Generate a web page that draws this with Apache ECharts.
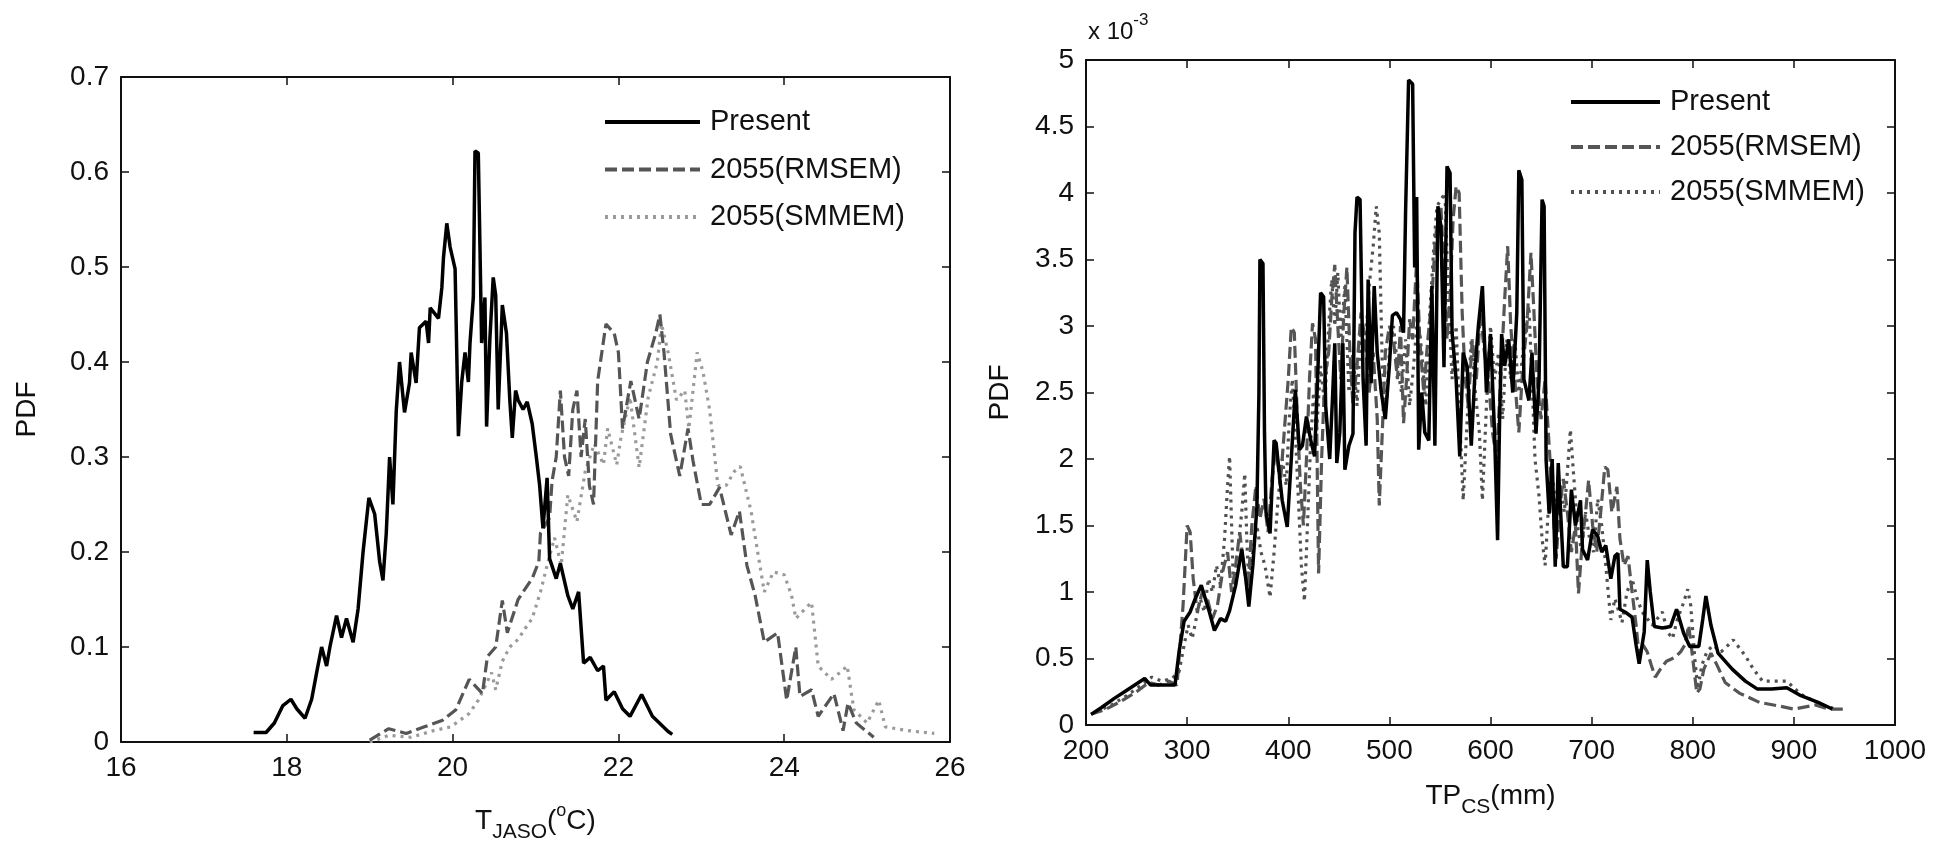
<!DOCTYPE html>
<html><head><meta charset="utf-8">
<script src="https://cdn.jsdelivr.net/npm/echarts@6/dist/echarts.min.js"></script>
<style>html,body{margin:0;padding:0;background:#fff}#c{width:1942px;height:849px}</style>
</head><body><div id="c"></div>
<script>
// ---------- tick labels ----------
const tjasoTicks = [16, 18, 20, 22, 24, 26];
const pdfLeftTicks = [0, 0.1, 0.2, 0.3, 0.4, 0.5, 0.6, 0.7];
const tpTicks = [200, 300, 400, 500, 600, 700, 800, 900, 1000];
const pdfRightTicks = [0, 0.5, 1, 1.5, 2, 2.5, 3, 3.5, 4, 4.5, 5]; // x 10^-3
const seriesNames = ['Present', '2055(RMSEM)', '2055(SMMEM)'];

// ---------- left panel: T_JASO (°C) vs PDF ----------
const tjasoPresent = [[17.6,0.01],[17.75,0.01],[17.85,0.02],[17.95,0.038],[18.05,0.045],[18.12,0.035],[18.22,0.025],[18.3,0.045],[18.36,0.073],[18.42,0.10],[18.48,0.08],[18.52,0.1],[18.6,0.133],[18.66,0.11],[18.72,0.13],[18.8,0.105],[18.86,0.14],[18.92,0.2],[18.99,0.257],[19.06,0.24],[19.12,0.19],[19.16,0.17],[19.2,0.22],[19.24,0.3],[19.28,0.25],[19.32,0.348],[19.36,0.40],[19.42,0.347],[19.48,0.378],[19.5,0.41],[19.56,0.378],[19.6,0.436],[19.68,0.443],[19.71,0.42],[19.73,0.457],[19.83,0.446],[19.87,0.478],[19.89,0.51],[19.93,0.546],[19.97,0.521],[20.03,0.498],[20.05,0.41],[20.07,0.322],[20.11,0.379],[20.15,0.41],[20.19,0.379],[20.21,0.42],[20.25,0.468],[20.27,0.622],[20.31,0.62],[20.33,0.521],[20.35,0.42],[20.39,0.468],[20.41,0.332],[20.45,0.425],[20.49,0.489],[20.52,0.47],[20.55,0.35],[20.6,0.46],[20.65,0.43],[20.69,0.36],[20.72,0.32],[20.76,0.37],[20.79,0.36],[20.85,0.35],[20.9,0.358],[20.96,0.335],[21.01,0.3],[21.05,0.27],[21.09,0.225],[21.14,0.278],[21.17,0.193],[21.25,0.172],[21.3,0.188],[21.39,0.154],[21.45,0.14],[21.52,0.158],[21.58,0.083],[21.66,0.089],[21.75,0.075],[21.82,0.08],[21.85,0.044],[21.95,0.053],[22.05,0.035],[22.14,0.027],[22.28,0.05],[22.41,0.027],[22.6,0.011],[22.65,0.008]];
const tjasoRMSEM = [[19.0,0.002],[19.23,0.014],[19.44,0.009],[19.66,0.016],[19.88,0.023],[20.04,0.034],[20.2,0.066],[20.36,0.051],[20.42,0.09],[20.52,0.10],[20.6,0.149],[20.66,0.115],[20.79,0.15],[20.85,0.158],[20.96,0.172],[21.04,0.19],[21.06,0.22],[21.17,0.236],[21.2,0.275],[21.25,0.3],[21.3,0.37],[21.35,0.3],[21.4,0.28],[21.45,0.35],[21.5,0.37],[21.55,0.3],[21.6,0.34],[21.65,0.27],[21.7,0.25],[21.75,0.38],[21.85,0.44],[21.95,0.43],[22.0,0.41],[22.05,0.33],[22.15,0.38],[22.25,0.34],[22.35,0.40],[22.45,0.43],[22.5,0.45],[22.55,0.41],[22.63,0.324],[22.74,0.28],[22.84,0.33],[22.9,0.296],[23.0,0.25],[23.1,0.25],[23.22,0.268],[23.36,0.218],[23.46,0.243],[23.55,0.186],[23.65,0.154],[23.76,0.105],[23.92,0.115],[24.03,0.044],[24.14,0.10],[24.19,0.048],[24.33,0.055],[24.41,0.027],[24.6,0.051],[24.71,0.012],[24.77,0.041],[24.87,0.02],[25.08,0.005]];
const tjasoSMMEM = [[19.0,0.0],[19.23,0.007],[19.5,0.005],[19.77,0.012],[19.98,0.016],[20.2,0.03],[20.31,0.044],[20.4,0.06],[20.47,0.073],[20.52,0.055],[20.6,0.085],[20.69,0.1],[20.79,0.108],[20.88,0.12],[20.96,0.13],[21.06,0.158],[21.14,0.186],[21.23,0.215],[21.31,0.186],[21.39,0.26],[21.5,0.232],[21.6,0.285],[21.71,0.314],[21.82,0.292],[21.87,0.33],[21.98,0.292],[22.03,0.32],[22.14,0.363],[22.25,0.289],[22.36,0.363],[22.47,0.40],[22.52,0.44],[22.6,0.41],[22.7,0.36],[22.8,0.37],[22.85,0.33],[22.95,0.41],[23.02,0.39],[23.1,0.35],[23.2,0.27],[23.3,0.27],[23.4,0.285],[23.47,0.29],[23.6,0.243],[23.68,0.2],[23.76,0.158],[23.87,0.179],[24.0,0.176],[24.09,0.154],[24.14,0.13],[24.25,0.14],[24.33,0.147],[24.41,0.08],[24.57,0.066],[24.7,0.075],[24.76,0.08],[24.84,0.034],[25.0,0.02],[25.14,0.044],[25.22,0.016],[25.49,0.012],[25.81,0.009]];

// ---------- right panel: TP_CS (mm) vs PDF (x 10^-3) ----------
const tpPresent = [[205,0.08],[215,0.13],[228,0.2],[240,0.26],[252,0.32],[258,0.35],[264,0.3],[272,0.3],[280,0.3],[288,0.3],[292,0.55],[297,0.78],[303,0.85],[308,0.95],[314,1.05],[318,0.95],[322,0.85],[327,0.71],[333,0.8],[338,0.78],[342,0.86],[348,1.05],[354,1.32],[358,1.1],[361,0.89],[365,1.2],[369,1.64],[371,2.49],[372,3.5],[375,3.47],[376.5,2.2],[378,1.6],[382,1.44],[386,2.14],[388,2.12],[391,1.9],[394,1.69],[399,1.49],[403,2.0],[407,2.52],[409,2.3],[411,2.07],[414,2.1],[418,2.32],[422,2.15],[426,2.02],[429,2.6],[432,3.25],[435,3.22],[437,2.4],[441,2.0],[444,2.5],[446,2.87],[448,1.97],[451,2.2],[454,2.87],[456,1.92],[460,2.1],[464,2.19],[466,3.7],[468,3.97],[471,3.95],[474,2.6],[477,2.1],[479,3.35],[482,2.57],[485,3.3],[488,2.8],[492,2.5],[496,2.3],[500,2.7],[503,3.08],[507,3.1],[511,3.05],[514,2.95],[516,3.85],[519,4.85],[523,4.82],[525,3.44],[527,3.97],[529,2.07],[532,2.5],[535,2.2],[539,2.14],[542,3.3],[545,2.1],[548,3.9],[551,3.75],[554,2.69],[557,4.2],[560,4.15],[562,2.95],[566,2.6],[569.6,2.02],[573,2.8],[577,2.69],[581,2.1],[585,2.7],[588,3.0],[592,3.3],[596,2.5],[600,2.94],[604,2.2],[607,1.39],[609,2.3],[611,2.94],[614,2.7],[618,2.9],[622,2.5],[626,3.1],[628,4.17],[631,4.1],[633,2.6],[638,2.44],[641,2.8],[645,2.19],[648,2.6],[651,3.95],[653,3.9],[655,1.99],[658,1.59],[661,2.0],[664,1.19],[667,1.97],[670,1.5],[672,1.19],[676,1.19],[680,1.77],[684,1.5],[689,1.69],[691,1.32],[696,1.24],[701,1.47],[706,1.42],[710,1.3],[714,1.35],[719,1.1],[723,1.27],[726,1.29],[728,0.87],[733,0.85],[740,0.81],[744,0.6],[747,0.46],[752,0.7],[755,1.24],[758,1.0],[762,0.74],[770,0.73],[778,0.74],[784,0.87],[791,0.69],[797,0.59],[806,0.59],[810,0.8],[813,0.97],[818,0.75],[825,0.54],[839,0.42],[852,0.33],[864,0.27],[878,0.27],[893,0.28],[907,0.22],[924,0.17],[938,0.12]];
const tpRMSEM = [[205,0.08],[220,0.12],[235,0.18],[250,0.25],[262,0.32],[272,0.3],[282,0.33],[290,0.3],[296,0.9],[300,1.5],[303,1.45],[306,1.1],[310,0.85],[315,1.0],[320,0.95],[325,0.8],[330,0.9],[335,1.15],[340,1.3],[344,1.0],[348,1.2],[352,1.45],[356,1.2],[360,1.0],[364,1.5],[368,1.8],[372,1.55],[376,1.7],[380,1.45],[384,1.85],[388,2.1],[392,1.8],[396,2.2],[400,2.6],[403,2.99],[406,2.95],[409,2.3],[412,1.8],[415,1.5],[418,2.0],[421,2.6],[424,3.02],[427,2.9],[430,1.14],[433,2.0],[436,2.6],[440,2.8],[443,3.2],[446,3.46],[449,3.0],[452,2.6],[455,3.1],[458,3.44],[461,2.8],[464,2.4],[468,2.7],[472,3.1],[476,2.9],[480,2.5],[484,2.8],[488,2.3],[490,1.65],[493,2.2],[496,2.8],[500,3.0],[504,2.9],[508,2.6],[511,3.0],[514,2.27],[517,2.6],[520,3.05],[523,2.9],[527,3.5],[530,2.9],[534,2.5],[538,2.9],[542,3.2],[545,3.6],[548,3.85],[551,3.9],[554,3.4],[557,2.9],[560,3.2],[563,3.8],[566,4.05],[569,4.0],[572,3.1],[575,2.6],[578,2.4],[582,2.9],[586,2.6],[590,3.1],[594,2.8],[598,2.6],[602,2.2],[606,2.0],[610,2.6],[614,3.2],[617,3.6],[620,3.0],[624,2.6],[628,2.2],[632,2.7],[636,3.0],[640,3.55],[643,3.1],[646,2.6],[650,2.3],[654,2.6],[658,2.1],[662,1.6],[665,1.25],[668,1.6],[672,1.85],[676,1.6],[680,1.3],[684,1.5],[687,0.99],[691,1.4],[694,1.6],[697,1.84],[701,1.5],[705,1.3],[709,1.6],[713,1.94],[716,1.92],[720,1.6],[725,1.79],[728,1.4],[732,1.2],[736,1.27],[740,1.0],[744,0.75],[747,0.52],[751,0.6],[755,0.55],[759,0.45],[763,0.36],[768,0.42],[774,0.48],[780,0.5],[784,0.52],[788,0.55],[792,0.6],[796,0.75],[800,0.5],[804,0.24],[807,0.27],[811,0.42],[818,0.54],[824,0.45],[832,0.32],[846,0.24],[866,0.17],[887,0.14],[900,0.12],[921,0.15],[935,0.12],[951,0.12]];
const tpSMMEM = [[210,0.1],[225,0.15],[240,0.22],[255,0.3],[265,0.36],[275,0.33],[285,0.35],[292,0.4],[297,0.6],[301,0.75],[305,0.65],[309,0.8],[313,0.95],[317,0.85],[321,1.1],[325,1.0],[329,1.2],[333,1.05],[337,1.4],[340,1.8],[342,2.02],[344,1.5],[346,0.99],[350,1.3],[354,1.6],[357,1.89],[359,1.4],[361,1.07],[365,1.3],[369,1.5],[373,1.3],[377,1.2],[382,0.96],[386,1.3],[390,1.7],[394,2.0],[398,1.8],[401,2.3],[404,2.6],[407,2.2],[410,1.7],[413,1.2],[416,0.93],[419,1.5],[422,2.1],[425,2.5],[428,2.2],[432,2.7],[436,2.4],[440,3.0],[443,3.35],[446,3.0],[449,3.4],[452,2.9],[456,3.3],[460,2.5],[464,2.8],[468,2.4],[472,3.0],[476,2.8],[480,3.3],[484,3.6],[487,3.9],[490,3.7],[493,2.7],[497,2.4],[500,2.8],[504,3.0],[508,2.7],[512,2.5],[516,2.9],[520,2.4],[524,2.7],[528,3.1],[532,2.8],[536,2.4],[540,3.1],[544,3.6],[547,3.9],[551,3.95],[555,4.0],[558,3.3],[562,2.6],[566,3.0],[569,2.4],[573,1.69],[577,2.3],[581,2.9],[585,2.5],[589,2.2],[592,1.69],[596,2.4],[600,3.0],[604,2.6],[608,2.8],[612,2.3],[616,2.9],[620,2.6],[624,2.9],[628,2.5],[632,2.8],[635,3.0],[638,3.15],[641,2.6],[644,2.0],[648,1.72],[651,1.4],[654,1.2],[657,1.6],[661,1.9],[665,1.6],[669,1.8],[673,1.6],[676,1.9],[679,2.22],[682,1.9],[686,1.5],[690,1.3],[694,1.6],[698,1.4],[702,1.3],[706,1.7],[710,1.5],[714,1.2],[717,0.95],[719,0.79],[723,0.95],[727,0.85],[730,0.77],[735,1.0],[740,1.1],[745,0.95],[750,0.85],[755,0.8],[760,0.75],[765,0.8],[770,0.85],[775,0.7],[780,0.65],[785,0.8],[790,0.9],[795,1.02],[798,0.9],[802,0.5],[805,0.27],[809,0.45],[814,0.55],[820,0.6],[828,0.55],[835,0.6],[840,0.64],[846,0.58],[852,0.52],[860,0.42],[869,0.33],[883,0.33],[893,0.33],[907,0.23],[920,0.18],[931,0.14],[942,0.12]];

// ---------- chart ----------
const FONT = 'Liberation Sans, Arial, Helvetica, sans-serif';
const INK = '#111';
const chart = echarts.init(document.getElementById('c'), null, {renderer: 'canvas'});

function rng(t) { return {min: t[0], max: t[t.length - 1], interval: t[1] - t[0]}; }
const axisLine = {show: true, onZero: false, lineStyle: {color: INK, width: 2}};
const axisTick = {show: true, inside: true, length: 8, lineStyle: {color: INK, width: 1.5}};
const label = {show: true, fontSize: 28, color: INK, fontFamily: FONT, margin: 12, formatter: v => String(v)};
const noLabel = {show: false};

function xAx(grid, ticks, pos, extra) {
  return Object.assign({gridIndex: grid, type: 'value', position: pos}, rng(ticks), {
    axisLine, axisTick, splitLine: {show: false},
    axisLabel: pos === 'bottom' ? label : noLabel
  }, extra || {});
}
function yAx(grid, ticks, pos, extra) {
  return Object.assign({gridIndex: grid, type: 'value', position: pos}, rng(ticks), {
    axisLine, axisTick, splitLine: {show: false},
    axisLabel: pos === 'left' ? label : noLabel
  }, extra || {});
}
const nameStyle = (rich) => ({fontSize: 28, color: INK, fontFamily: FONT, rich});
const richBase = {
  n: {fontSize: 28, color: INK, fontFamily: FONT},
  sub: {fontSize: 21, color: INK, fontFamily: FONT, padding: [22, 0, 0, 0]},
  sup: {fontSize: 18, color: INK, fontFamily: FONT, padding: [0, 0, 20, 0]}
};

const styles = [
  {color: '#000000', type: 'solid', width: 3.5},
  {color: '#555555', type: [12, 5], width: 3.2},
  {color: '#9a9a9a', type: [3, 5], width: 3.2}
];
const stylesRight = [
  {color: '#000000', type: 'solid', width: 3.5},
  {color: '#555555', type: [12, 5], width: 3.2},
  {color: '#505050', type: [3, 5], width: 3.2}
];
const leftData = [tjasoPresent, tjasoRMSEM, tjasoSMMEM];
const rightData = [tpPresent, tpRMSEM, tpSMMEM];
const RSUFFIX = ' ';

const series = [];
// draw order: dotted, dashed, solid on top
[2, 1, 0].forEach(i => {
  series.push({type: 'line', name: seriesNames[i], xAxisIndex: 0, yAxisIndex: 0,
    data: leftData[i], showSymbol: false, symbol: 'none', lineStyle: styles[i],
    itemStyle: {color: styles[i].color}, z: 3 - i});
});
[2, 1, 0].forEach(i => {
  series.push({type: 'line', name: seriesNames[i] + RSUFFIX, xAxisIndex: 2, yAxisIndex: 2,
    data: rightData[i], showSymbol: false, symbol: 'none', lineStyle: stylesRight[i],
    itemStyle: {color: stylesRight[i].color}, z: 3 - i});
});

const legendText = {fontSize: 29, color: INK, fontFamily: FONT, lineHeight: 30, padding: [0, 0, 0, 5]};
const hiddenSymbol = {opacity: 0, borderWidth: 0};
const legendLine = {width: 4};

chart.setOption({
  animation: false,
  backgroundColor: '#ffffff',
  grid: [
    {left: 121, top: 77, width: 829, height: 665, outerBoundsMode: 'none', containLabel: false},
    {left: 1086, top: 60, width: 809, height: 665, outerBoundsMode: 'none', containLabel: false}
  ],
  xAxis: [
    xAx(0, tjasoTicks, 'bottom', {name: '{n|T}{sub|JASO}{n|(}{sup|o}{n|C)}', nameLocation: 'middle', nameGap: 58, nameTextStyle: nameStyle(richBase)}),
    xAx(0, tjasoTicks, 'top'),
    xAx(1, tpTicks, 'bottom', {name: '{n|TP}{sub|CS}{n|(mm)}', nameLocation: 'middle', nameGap: 50, nameTextStyle: nameStyle(richBase)}),
    xAx(1, tpTicks, 'top')
  ],
  yAxis: [
    yAx(0, pdfLeftTicks, 'left', {name: 'PDF', nameLocation: 'middle', nameRotate: 90, nameGap: 80, nameTextStyle: {fontSize: 28, color: INK, fontFamily: FONT}}),
    yAx(0, pdfLeftTicks, 'right'),
    yAx(1, pdfRightTicks, 'left', {name: 'PDF', nameLocation: 'middle', nameRotate: 90, nameGap: 72, nameTextStyle: {fontSize: 28, color: INK, fontFamily: FONT}}),
    yAx(1, pdfRightTicks, 'right')
  ],
  legend: [
    {orient: 'vertical', left: 603, top: 107, padding: 0, itemWidth: 95, itemHeight: 30, itemGap: 17.5,
     data: seriesNames, textStyle: legendText, selectedMode: false, itemStyle: hiddenSymbol, lineStyle: legendLine},
    {orient: 'vertical', left: 1569, top: 87, padding: 0, itemWidth: 89, itemHeight: 30, itemGap: 15,
     data: seriesNames.map(n => n + RSUFFIX), textStyle: legendText, selectedMode: false,
     itemStyle: hiddenSymbol, lineStyle: legendLine, formatter: n => n.trim()}
  ],
  graphic: [{
    type: 'text', left: 1088, top: 12,
    style: {text: '{a|x 10}{s|-3}', rich: {
      a: {fontSize: 24, fill: INK, fontFamily: FONT, padding: [12, 0, 0, 0]},
      s: {fontSize: 17, fill: INK, fontFamily: FONT, padding: [0, 0, 12, 0]}
    }}
  }],
  series
});
</script></body></html>
